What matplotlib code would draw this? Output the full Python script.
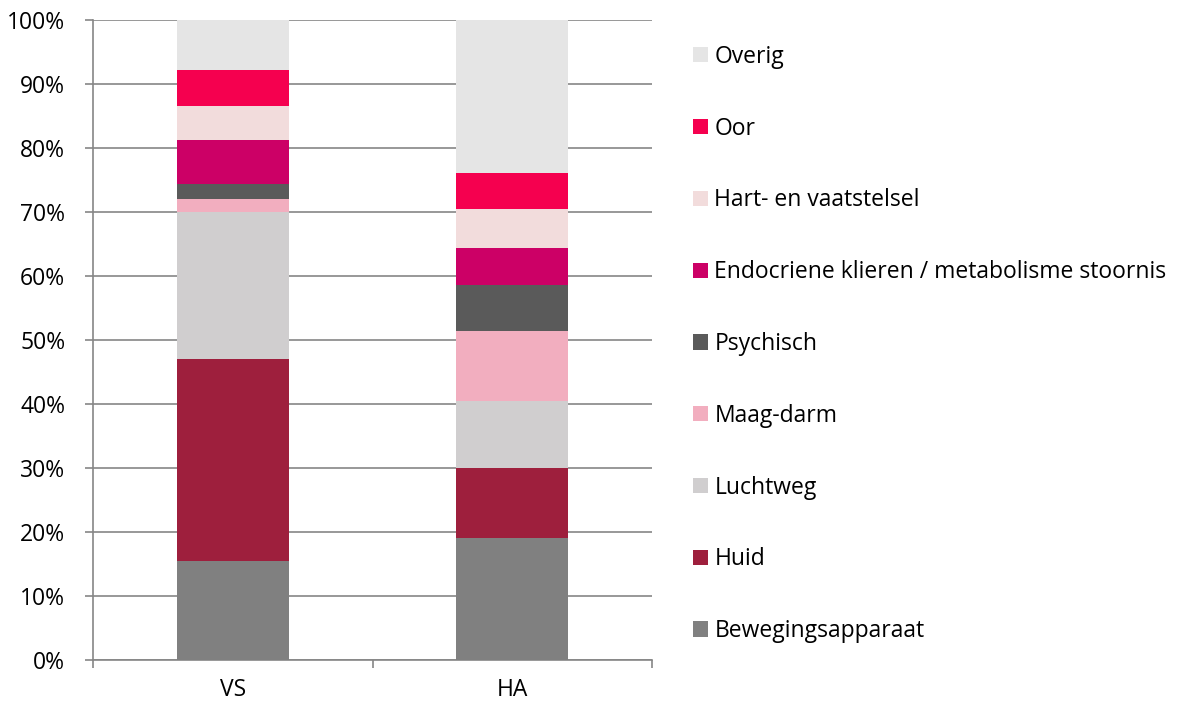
import matplotlib.pyplot as plt
from matplotlib.patches import Patch
import numpy as np

groups = ["VS", "HA"]
categories = ["Bewegingsapparaat", "Huid", "Luchtweg", "Maag-darm", "Psychisch",
              "Endocriene klieren / metabolisme stoornis", "Hart- en vaatstelsel",
              "Oor", "Overig"]
vs_values = [15.5, 31.5, 23.0, 2.0, 2.3, 6.95, 5.35, 5.6, 7.8]
ha_values = [19.0, 11.0, 10.5, 10.9, 7.2, 5.7, 6.1, 5.7, 23.9]
colors = ["#808080", "#9E1F3D", "#D0CECF", "#F2AEBF", "#5A5A5A",
          "#CC0066", "#F2DCDC", "#F5004F", "#E5E5E5"]

plt.rcParams["font.family"] = ["Open Sans", "DejaVu Sans"]
fs = 16.5

fig = plt.figure(figsize=(11.79, 7.04), dpi=100)
ax = fig.add_axes([93 / 1179, 1 - 660 / 704, (652 - 93) / 1179, 640 / 704])

data = np.array([vs_values, ha_values])
x = np.arange(len(groups))
bottom = np.zeros(len(groups))
for i, cat in enumerate(categories):
    ax.bar(x, data[:, i], 0.4, bottom=bottom, color=colors[i], label=cat, zorder=3)
    bottom += data[:, i]

ax.set_xlim(-0.5, 1.5)
ax.set_ylim(0, 100)
ax.set_yticks(np.arange(0, 101, 10))
ax.set_yticklabels([f"{v}%" for v in range(0, 101, 10)])
ax.yaxis.grid(True, color="#868686", linewidth=1.2, zorder=0)
ax.set_axisbelow(True)

ax.set_xticks(x)
ax.set_xticklabels(groups)
ax.set_xticks([-0.5, 0.5, 1.5], minor=True)
ax.tick_params(axis="x", which="major", length=0, pad=13, labelsize=fs)
ax.tick_params(axis="x", which="minor", length=6, color="#868686", width=1.2)
ax.tick_params(axis="y", length=6, color="#868686", width=1.2, labelsize=fs, pad=14)

for s in ["top", "right"]:
    ax.spines[s].set_visible(False)
for s in ["left", "bottom"]:
    ax.spines[s].set_color("#868686")
    ax.spines[s].set_linewidth(1.2)

handles = [Patch(facecolor=c, label=l) for c, l in zip(colors, categories)][::-1]
fig.legend(handles=handles, loc="center left", bbox_to_anchor=(693 / 1179, 1 - 344 / 704),
           frameon=False, fontsize=fs, handlelength=0.65, handleheight=0.65,
           handletextpad=0.28, labelspacing=2.085, borderpad=0, borderaxespad=0)

fig.savefig("out.png", dpi=100)
